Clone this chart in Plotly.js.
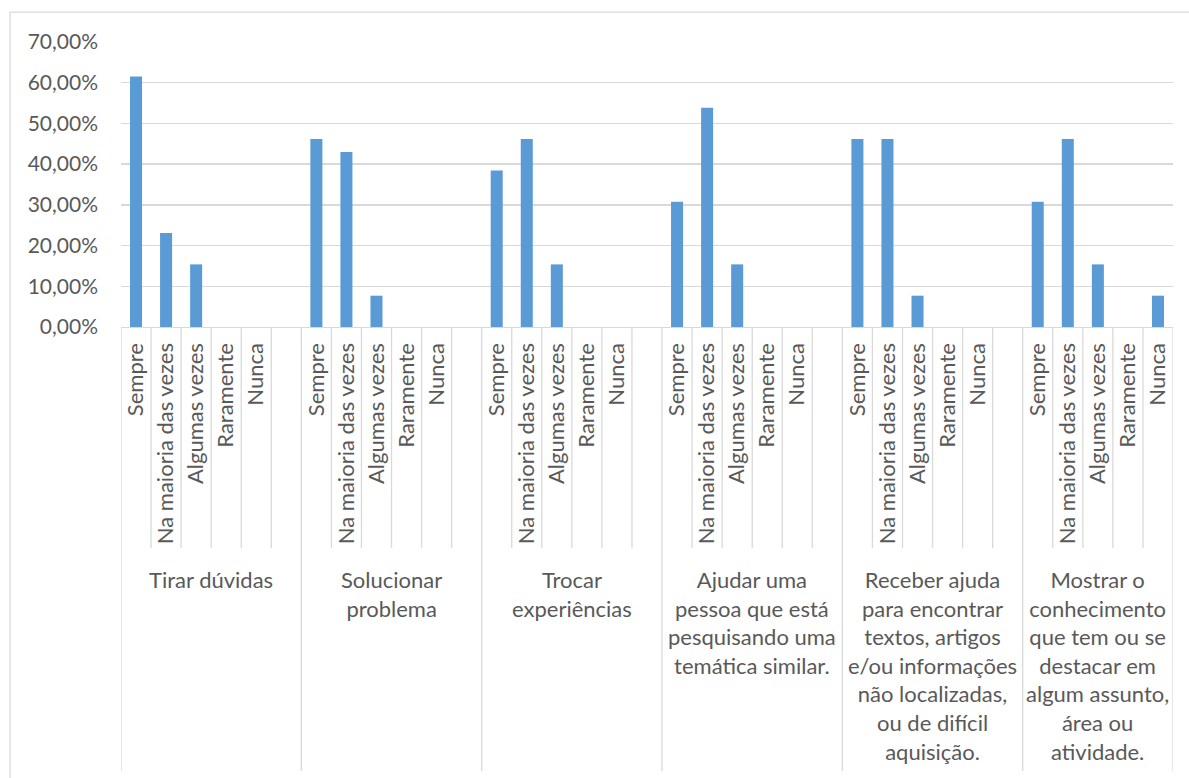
<!DOCTYPE html>
<html>
<head>
<meta charset="utf-8">
<script src="https://cdn.plot.ly/plotly-3.0.1.min.js"></script>
<style>html,body{margin:0;padding:0;background:#fff;}#chart{width:1189px;height:778px;}</style>
</head>
<body>
<div id="chart"></div>
<script>
// Groups (outer category labels)
const groups = [
  "Tirar dúvidas",
  "Solucionar<br>problema",
  "Trocar<br>experiências",
  "Ajudar uma<br>pessoa que está<br>pesquisando uma<br>temática similar.",
  "Receber ajuda<br>para encontrar<br>textos, artigos<br>e/ou informações<br>não localizadas,<br>ou de difícil<br>aquisição.",
  "Mostrar o<br>conhecimento<br>que tem ou se<br>destacar em<br>algum assunto,<br>área ou<br>atividade."
];
// Inner categories
const categories = ["Sempre", "Na maioria das vezes", "Algumas vezes", "Raramente", "Nunca"];
// Values per group (fractions)
const tirarDuvidas         = [0.6154, 0.2308, 0.1538, 0, 0];
const solucionarProblema   = [0.4615, 0.4300, 0.0769, 0, 0];
const trocarExperiencias   = [0.3846, 0.4615, 0.1538, 0, 0];
const ajudarPessoa         = [0.3077, 0.5385, 0.1538, 0, 0];
const receberAjuda         = [0.4615, 0.4615, 0.0769, 0, 0];
const mostrarConhecimento  = [0.3077, 0.4615, 0.1538, 0, 0.0769];
const series = [tirarDuvidas, solucionarProblema, trocarExperiencias, ajudarPessoa, receberAjuda, mostrarConhecimento];

const SLOTS = 6; // 5 categories + one blank slot per group
const nSlots = groups.length * SLOTS - 1;

const xs = [], ys = [], tv = [], tt = [];
series.forEach((vals, g) => {
  vals.forEach((v, c) => {
    const slot = g * SLOTS + c;
    xs.push(slot); ys.push(v);
    tv.push(slot); tt.push(categories[c]);
  });
});

const font = "Lato, 'Open Sans', sans-serif";
const textColor = "#595959";
const lineColor = "#d9d9d9";

const shapes = [];
// category boundaries and group dividers
for (let s = 0; s <= nSlots; s++) {
  const isGroupEdge = (s % SLOTS === 0) || s === nSlots;
  shapes.push({
    type: "line", xref: "x", yref: "paper",
    x0: s - 0.5, x1: s - 0.5, y0: 0, y1: isGroupEdge ? -1.558 : -0.775,
    line: {color: lineColor, width: 1.3}
  });
}
// chart-area border
shapes.push({
  type: "rect", xref: "paper", yref: "paper",
  x0: -0.1055, x1: 1.05, y0: 1.105, y1: -1.8,
  line: {color: lineColor, width: 1.3}, fillcolor: "rgba(0,0,0,0)", layer: "below"
});

const annotations = groups.map((gname, g) => {
  const firstEdge = g * SLOTS - 0.5;
  const lastEdge = (g === groups.length - 1) ? nSlots - 0.5 : g * SLOTS + SLOTS - 0.5;
  return {
    xref: "x", yref: "paper",
    x: (firstEdge + lastEdge) / 2, y: -0.83,
    xanchor: "center", yanchor: "top",
    text: gname, showarrow: false, align: "center",
    font: {family: font, size: 22, color: textColor}
  };
});

const data = [{
  type: "bar",
  x: xs, y: ys,
  width: 0.4,
  marker: {color: "#5B9BD5"},
  hoverinfo: "y"
}];

const layout = {
  width: 1189, height: 778,
  margin: {l: 121, r: 16, t: 42, b: 451, pad: 0},
  paper_bgcolor: "#ffffff", plot_bgcolor: "#ffffff",
  separators: ",.",
  showlegend: false,
  font: {family: font, color: textColor, size: 21},
  xaxis: {
    range: [-0.5, nSlots - 0.5],
    tickmode: "array", tickvals: tv, ticktext: tt,
    tickangle: -90, ticks: "", showgrid: false, zeroline: false,
    showline: true, linecolor: lineColor, linewidth: 1.3,
    tickfont: {family: font, size: 22, color: textColor},
    ticklabelstandoff: 6,
    automargin: false, fixedrange: true
  },
  yaxis: {
    range: [0, 0.7], dtick: 0.1, tick0: 0,
    tickformat: ".2%",
    showgrid: true, gridcolor: lineColor, gridwidth: 1.3,
    zeroline: false, showline: false, ticks: "",
    tickfont: {family: font, size: 21, color: textColor},
    ticklabelstandoff: 22,
    automargin: false, fixedrange: true
  },
  shapes: shapes,
  annotations: annotations
};

Plotly.newPlot("chart", data, layout, {displayModeBar: false, staticPlot: true});
</script>
</body>
</html>
